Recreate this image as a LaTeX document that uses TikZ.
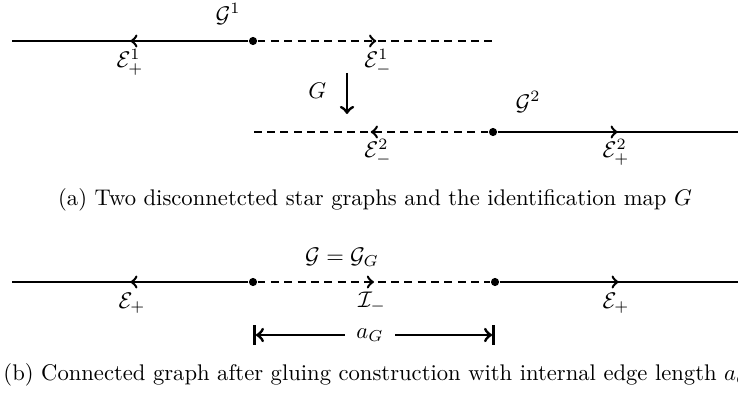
\documentclass[tikz,border=0pt]{standalone}
\usepackage{amsmath}
\usepackage{amsfonts}
\usepackage{amssymb}
\usetikzlibrary{arrows, positioning, decorations.markings}
\tikzset{
    vertice/.style={circle, fill=black, inner sep=0pt, minimum size=3.6pt},
    solido/.style={line width=1.3pt, draw=black},
    tratteggio/.style={line width=1.3pt, draw=black, dash pattern=on 3.5pt off 2.4pt},
    frecciamezzo/.style={postaction={decorate}, decoration={markings, mark=at position 0.5 with {\arrow[line width=1.1pt]{>}}}},
    etichetta/.style={inner sep=1pt},
    mappa/.style={->, >=to, line width=1.3pt},
    misura/.style={line width=1.3pt}
}

\begin{document}
\begin{tikzpicture}[x=0.01554cm, y=-0.01554cm]
        \useasboundingbox (0,0) rectangle (738,396);

        % Primo grafo stella
        \node (v1) [vertice] at (253,41) {};
        \coordinate (e1piu) at (12,41);
        \coordinate (e1meno) at (495,41);
        \draw [solido, frecciamezzo] (v1) -- (e1piu);
        \draw [tratteggio, frecciamezzo] (v1) -- (e1meno);
        \node (g1) [etichetta] at (228,14) {$\mathcal{G}^1$};
        \node (l1piu) [etichetta] at (130,62) {$\mathcal{E}^1_+$};
        \node (l1meno) [etichetta] at (378,62) {$\mathcal{E}^1_-$};

        % Mappa di identificazione
        \coordinate (gsu) at (347,73);
        \coordinate (giu) at (347,114);
        \draw [mappa] (gsu) -- (giu);
        \node (gmap) [etichetta, left=0.28cm of gsu, yshift=-0.27cm] {$G$};

        % Secondo grafo stella
        \node (v2) [vertice] at (493,132) {};
        \coordinate (e2meno) at (253,132);
        \coordinate (e2piu) at (738,132);
        \draw [tratteggio, frecciamezzo] (v2) -- (e2meno);
        \draw [solido, frecciamezzo] (v2) -- (e2piu);
        \node (g2) [etichetta] at (528,102) {$\mathcal{G}^2$};
        \node (l2meno) [etichetta] at (378,152) {$\mathcal{E}^2_-$};
        \node (l2piu) [etichetta] at (616,152) {$\mathcal{E}^2_+$};

        \node (capa) at (375,200) {(a) Two disconnetcted star graphs and the identification map $G$};

        % Grafo connesso
        \node (u1) [vertice] at (253,282) {};
        \node (u2) [vertice] at (495,282) {};
        \coordinate (fsx) at (12,282);
        \coordinate (fdx) at (738,282);
        \draw [solido, frecciamezzo] (u1) -- (fsx);
        \draw [tratteggio, frecciamezzo] (u1) -- (u2);
        \draw [solido, frecciamezzo] (u2) -- (fdx);
        \node (gg) [etichetta] at (342,257) {$\mathcal{G} = \mathcal{G}_G$};
        \node (lsx) [etichetta] at (132,303) {$\mathcal{E}_+$};
        \node (lint) [etichetta] at (372,302) {$\mathcal{I}_-$};
        \node (ldx) [etichetta] at (616,303) {$\mathcal{E}_+$};

        % Lunghezza del lato interno
        \coordinate (msx) at (253,335);
        \coordinate (mdx) at (495,335);
        \node (ag) [inner sep=5pt] at (370,335) {$a_G$};
        \draw [misura, |<-] (msx) -- (ag.west);
        \draw [misura, ->|] (ag.east) -- (mdx);

        \node (capb) [anchor=west, inner sep=0pt] at (3,375) {(b) Connected graph after gluing construction with internal edge length $a_G$};

    \end{tikzpicture}
\end{document}
